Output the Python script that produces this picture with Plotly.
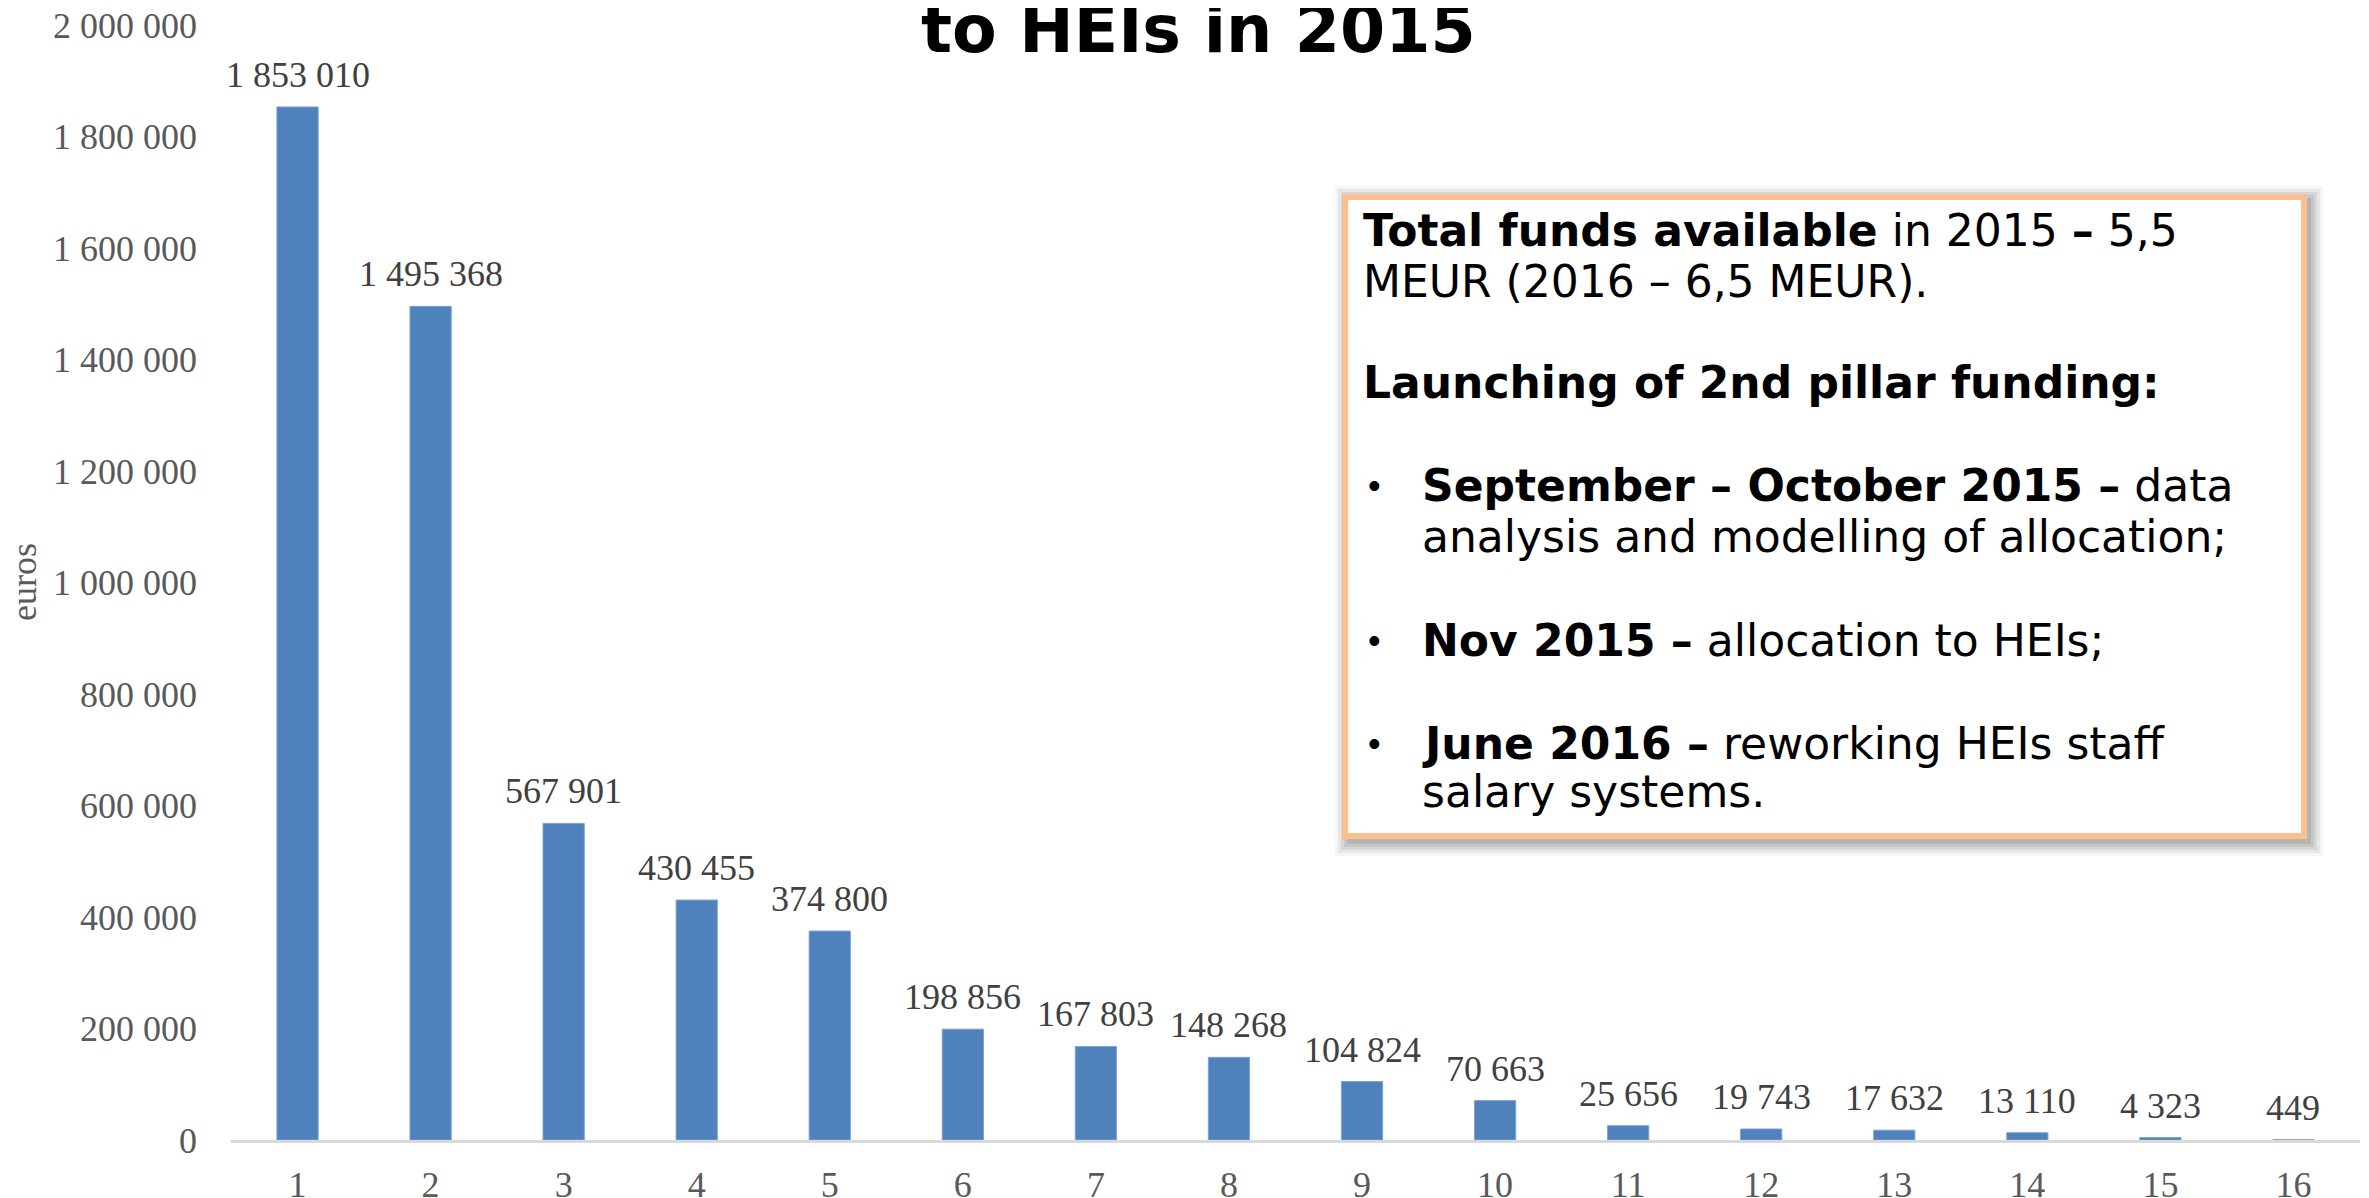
import plotly.graph_objects as go

# HEI ranks and allocated amounts (euros)
categories = list(range(1, 17))
amounts = [1853010, 1495368, 567901, 430455, 374800, 198856, 167803, 148268,
           104824, 70663, 25656, 19743, 17632, 13110, 4323, 449]
y_ticks = list(range(0, 2000001, 200000))

title_text = "to HEIs in 2015"
box_lines = [
    ("<b>Total funds available</b> in 2015 <b>–</b> 5,5", False),
    ("MEUR (2016 – 6,5 MEUR).", False),
    ("<b>Launching of 2nd pillar funding:</b>", False),
    ("<b>September – October 2015 –</b> data", True),
    ("analysis and modelling of allocation;", None),
    ("<b>Nov 2015 –</b> allocation to HEIs;", True),
    ("<b>June 2016 –</b> reworking HEIs staff", True),
    ("salary systems.", None),
]
box_line_y = [231, 281, 383, 486, 536, 640, 743, 791]

# page is 2369x1198, the html body adds an 8px margin
OFF = 8
W, H = 2369 - OFF, 1198 - OFF
# plot area in page pixels
PX0, PX1, PY0, PY1 = 231, 2360, 25, 1140
PW, PH = PX1 - PX0, PY1 - PY0


def px(x):
    return (x - PX0) / PW


def py(y):
    return (PY1 - y) / PH


fig = go.Figure()
fig.add_trace(go.Bar(
    x=categories, y=amounts,
    marker=dict(color="#4F81BD", line=dict(color="#7FA3D1", width=1)),
    cliponaxis=False, showlegend=False, hoverinfo="x+y",
))

shapes = []
# soft shadow around the text box
bx0, by0, bx1, by1 = 1345, 197, 2304, 836
for i, op in enumerate([0.06, 0.08, 0.10, 0.12, 0.14]):
    g = 14 - i * 3
    shapes.append(dict(type="rect", xref="paper", yref="paper",
                       x0=px(bx0 - g + 4), x1=px(bx1 + g + 5),
                       y0=py(by1 + g + 6), y1=py(by0 - g + 3),
                       line=dict(width=0), fillcolor=f"rgba(80,80,80,{op})", layer="above"))
shapes.append(dict(type="rect", xref="paper", yref="paper",
                   x0=px(bx0), x1=px(bx1), y0=py(by1), y1=py(by0),
                   line=dict(color="#FBC08E", width=6), fillcolor="white", layer="above"))

# value labels above the bars
annotations = []
for c, v in zip(categories, amounts):
    annotations.append(dict(
        text=f"{v:,}".replace(",", " "), x=c, y=v, xref="x", yref="y",
        xanchor="center", yanchor="bottom", yshift=10, showarrow=False,
        font=dict(family="Liberation Serif", size=36, color="#404040"),
    ))

annotations += [dict(
    text=f"<b>{title_text}</b>", xref="paper", yref="paper",
    x=px(1198), y=py(29), xanchor="center", yanchor="middle", showarrow=False,
    font=dict(family="DejaVu Sans", size=65, color="black"),
), dict(
    text="euros", xref="paper", yref="paper", textangle=-90,
    x=px(24), y=py(582), xanchor="center", yanchor="middle", showarrow=False,
    font=dict(family="Liberation Serif", size=36, color="#595959"),
)]

for (txt, bullet), yy in zip(box_lines, box_line_y):
    x_text = 1361 if bullet is False else 1420
    annotations.append(dict(
        text=txt, xref="paper", yref="paper", x=px(x_text), y=py(yy),
        xanchor="left", yanchor="middle", showarrow=False,
        font=dict(family="DejaVu Sans", size=44, color="black"),
    ))
    if bullet:
        annotations.append(dict(
            text="•", xref="paper", yref="paper", x=px(1366), y=py(yy),
            xanchor="left", yanchor="middle", showarrow=False,
            font=dict(family="Liberation Sans", size=36, color="black"),
        ))

fig.update_layout(
    width=W, height=H,
    margin=dict(l=PX0 - OFF, r=W - (PX1 - OFF), t=PY0 - OFF, b=H - (PY1 - OFF),
                autoexpand=False),
    paper_bgcolor="white", plot_bgcolor="white",
    separators=", ",
    bargap=0.69,
    shapes=shapes,
    annotations=annotations,
    xaxis=dict(
        range=[0.5, 16.5], tickvals=categories, automargin=False,
        showline=True, linecolor="#D9D9D9", linewidth=3,
        showgrid=False, zeroline=False, ticks="", ticklabelstandoff=11,
        ticklabeloverflow="allow",
        tickfont=dict(family="Liberation Serif", size=36, color="#595959"),
    ),
    yaxis=dict(
        range=[0, 2000000], tickvals=y_ticks, tickformat=",", automargin=False,
        showgrid=False, zeroline=False, showline=False, ticks="",
        ticklabelstandoff=33, ticklabeloverflow="allow",
        tickfont=dict(family="Liberation Serif", size=36, color="#595959"),
    ),
)

fig.write_html("out.html")
